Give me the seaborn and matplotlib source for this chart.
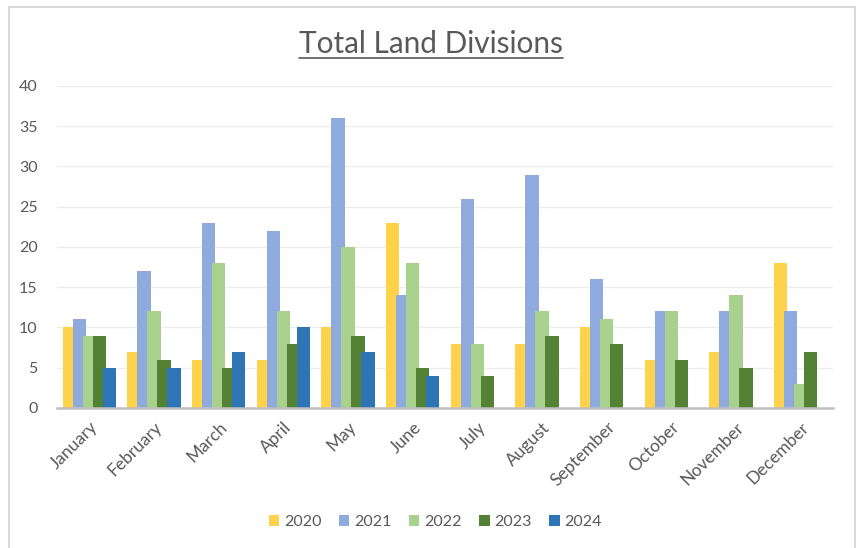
import pandas as pd
import numpy as np
import matplotlib
matplotlib.use("Agg")
import matplotlib.pyplot as plt
import matplotlib.patches as mpatches
from matplotlib.lines import Line2D
import seaborn as sns

# data

months = ['January', 'February', 'March', 'April', 'May', 'June',
          'July', 'August', 'September', 'October', 'November', 'December']
years = ['2020', '2021', '2022', '2023', '2024']

y2020 = [10, 7, 6, 6, 10, 23, 8, 8, 10, 6, 7, 18]
y2021 = [11, 17, 23, 22, 36, 14, 26, 29, 16, 12, 12, 12]
y2022 = [9, 12, 18, 12, 20, 18, 8, 12, 11, 12, 14, 3]
y2023 = [9, 6, 5, 8, 9, 5, 4, 9, 8, 6, 5, 7]
y2024 = [5, 5, 7, 10, 7, 4, np.nan, np.nan, np.nan, np.nan, np.nan, np.nan]

colors = ['#FFD24B', '#8FAADC', '#A9D18E', '#548235', '#2E75B6']

# long table for seaborn

df = pd.DataFrame({
    'month': months * 5,
    'year': [y for y in years for _ in months],
    'value': y2020 + y2021 + y2022 + y2023 + y2024,
})

sns.set_theme(style='white')
plt.rcParams['font.family'] = ['Lato', 'DejaVu Sans']
text_color = '#595959'

fig = plt.figure(figsize=(8.62, 5.48), dpi=100)
ax = fig.add_axes([0.0661, 0.2555, 0.9003, 0.5876])

sns.barplot(data=df, x='month', y='value', hue='year', hue_order=years,
            palette=colors, width=0.773, saturation=1, dodge=True,
            errorbar=None, ax=ax)

# excel style overlapping bars
for p in ax.patches:
    c = p.get_x() + p.get_width() / 2
    w = p.get_width() * 1.333
    p.set_x(c - w / 2)
    p.set_width(w)
    p.set_edgecolor('none')

ax.set_ylim(0, 40)
ax.set_xlim(-0.5, 11.5)
ax.set_yticks(range(0, 41, 5))
ax.yaxis.grid(True, color='#EDEDED', lw=1)
ax.set_axisbelow(True)
for s in ['top', 'right', 'left']:
    ax.spines[s].set_visible(False)
ax.spines['bottom'].set_color('#BFBFBF')
ax.spines['bottom'].set_linewidth(1.8)
ax.set_xlabel('')
ax.set_ylabel('')
ax.tick_params(axis='y', length=0, pad=14, labelsize=11.5, labelcolor=text_color)
ax.tick_params(axis='x', length=0, pad=8, labelsize=12.5, labelcolor=text_color)
plt.setp(ax.get_xticklabels(), rotation=45, ha='right', rotation_mode='anchor')

# legend at the bottom

handles, labels = ax.get_legend_handles_labels()
ax.get_legend().remove()
fig.legend(handles, labels, loc='center', bbox_to_anchor=(0.505, 1 - 522 / 548),
           ncol=5, frameon=False, fontsize=11.5, labelcolor=text_color,
           handlelength=0.65, handleheight=0.65, handletextpad=0.3,
           columnspacing=1.1)

# title with underline

t = fig.text(0.5, 1 - 53 / 548, 'Total Land Divisions', ha='center', va='baseline',
             fontsize=21.4, color=text_color)
fig.canvas.draw()
bb = t.get_window_extent().transformed(fig.transFigure.inverted())
fig.add_artist(Line2D([bb.x0, bb.x1], [1 - 57.5 / 548] * 2, color=text_color,
                      lw=1.2, transform=fig.transFigure))

# chart border
fig.add_artist(mpatches.Rectangle((9 / 862, -0.05), (855 - 9) / 862, 1.05 - 7 / 548,
                                  transform=fig.transFigure, fill=False,
                                  edgecolor='#D9D9D9', lw=1.5, clip_on=False))

fig.savefig('out.png', dpi=100)
